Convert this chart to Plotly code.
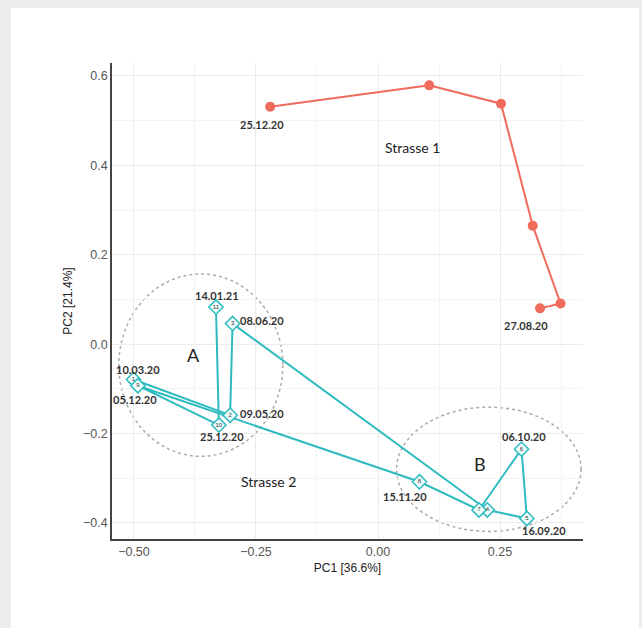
import plotly.graph_objects as go

# Strasse 1 (red path)
s1_x = [-0.221, 0.105, 0.252, 0.317, 0.374, 0.332]
s1_y = [0.531, 0.579, 0.538, 0.265, 0.091, 0.080]
s1_labels = ["25.12.20", "", "", "", "", "27.08.20"]

# Strasse 2 (teal path), samples 1..11 in sequence
s2_ids = ["1", "2", "3", "4", "5", "6", "7", "8", "9", "10", "11"]
s2_x = [-0.501, -0.303, -0.298, 0.224, 0.305, 0.294, 0.207, 0.085, -0.492, -0.326, -0.332]
s2_y = [-0.079, -0.159, 0.046, -0.371, -0.390, -0.235, -0.371, -0.308, -0.093, -0.181, 0.083]
s2_labels = ["10.03.20", "09.05.20", "08.06.20", "", "16.09.20", "06.10.20", "", "15.11.20",
             "05.12.20", "25.12.20", "14.01.21"]

# label pixel offsets (dx right, dy down)
s1_off = [(-8, 18), None, None, None, None, (-14, 17)]
s2_off = [(5, -10), (32, -2), (29, -3), None, (17, 12), (2, -13), None, (-14, 15),
          (-3, 14), (3, 11), (1, -12)]

# Cluster ellipses (center x, center y, radius x, radius y)
ellipses = {"A": (-0.363, -0.047, 0.168, 0.204), "B": (0.227, -0.280, 0.189, 0.139)}

RED = "#EF6B5C"
TEAL = "#2DBBBF"

fig = go.Figure()

fig.add_trace(go.Scatter(x=s1_x, y=s1_y, mode="lines+markers",
                         line=dict(color=RED, width=2),
                         marker=dict(color=RED, size=10), hoverinfo="skip"))

fig.add_trace(go.Scatter(x=s2_x, y=s2_y, mode="lines",
                         line=dict(color=TEAL, width=2), hoverinfo="skip"))
fig.add_trace(go.Scatter(x=s2_x, y=s2_y, mode="markers+text",
                         marker=dict(symbol="diamond", size=11, color="rgba(240,252,252,0.95)",
                                     line=dict(color=TEAL, width=1.5)),
                         text=s2_ids, textposition="middle center",
                         textfont=dict(size=6, color="#333333", family="Liberation Sans"),
                         hoverinfo="skip"))

for name, (cx, cy, rx, ry) in ellipses.items():
    fig.add_shape(type="circle", xref="x", yref="y",
                  x0=cx - rx, x1=cx + rx, y0=cy - ry, y1=cy + ry,
                  line=dict(color="#aaaaaa", width=1.5, dash="dot"), layer="below")

annots = []
lab_font = dict(family="Lato", size=11, color="#333333")
for xs, ys, labs, offs in [(s1_x, s1_y, s1_labels, s1_off), (s2_x, s2_y, s2_labels, s2_off)]:
    for x, y, lab, off in zip(xs, ys, labs, offs):
        if lab and off:
            annots.append(dict(x=x, y=y, text="<b>" + lab + "</b>", showarrow=False,
                               xshift=off[0], yshift=-off[1], font=lab_font))

big_font = dict(family="Lato", color="#222222")
annots += [
    dict(x=0.07, y=0.44, text="Strasse 1", showarrow=False, font=dict(size=14, **big_font)),
    dict(x=-0.225, y=-0.307, text="Strasse 2", showarrow=False, font=dict(size=14, **big_font)),
    dict(x=-0.378, y=-0.025, text="A", showarrow=False, font=dict(size=18, **big_font)),
    dict(x=0.209, y=-0.268, text="B", showarrow=False, font=dict(size=18, **big_font)),
]

fig.update_layout(
    width=642, height=628,
    margin=dict(l=112, r=59, t=63, b=89),
    paper_bgcolor="#ECEEED", plot_bgcolor="white",
    showlegend=False, annotations=annots,
    font=dict(family="Liberation Sans", color="#555555"),
)
fig.add_shape(type="rect", xref="paper", yref="paper",
              x0=-(112 - 11) / 471, x1=1 + (639 - 583) / 471,
              y0=-89 / 476, y1=1 + (63 - 8) / 476,
              fillcolor="white", line=dict(width=0), layer="below")

axis_common = dict(showline=True, linecolor="#444444", linewidth=1.5,
                   gridcolor="#EBEBEB", gridwidth=1, zeroline=False, ticks="",
                   tickfont=dict(size=12.5, color="#555555"),
                   minor=dict(showgrid=True, gridcolor="#F4F4F4", gridwidth=1))
fig.update_xaxes(range=[-0.545, 0.42], tickvals=[-0.5, -0.25, 0, 0.25],
                 ticktext=["−0.50", "−0.25", "0.00", "0.25"],
                 title=dict(text="PC1 [36.6%]", font=dict(size=12, color="#222222"), standoff=6),
                 **axis_common)
fig.update_xaxes(minor=dict(tickvals=[-0.375, -0.125, 0.125, 0.375]))
fig.update_yaxes(range=[-0.436, 0.629], tickvals=[-0.4, -0.2, 0, 0.2, 0.4, 0.6],
                 ticktext=["−0.4", "−0.2", "0.0", "0.2", "0.4", "0.6"],
                 title=dict(text="PC2 [21.4%]", font=dict(size=12, color="#222222"), standoff=8),
                 **axis_common)
fig.update_yaxes(minor=dict(tickvals=[-0.3, -0.1, 0.1, 0.3, 0.5]))

fig.write_html("out.html",
               config={"displayModeBar": False},
               post_script="document.body.style.margin='0px';"
                           "document.body.style.background='#ECEEED';"
                           "document.body.style.overflow='hidden';")
